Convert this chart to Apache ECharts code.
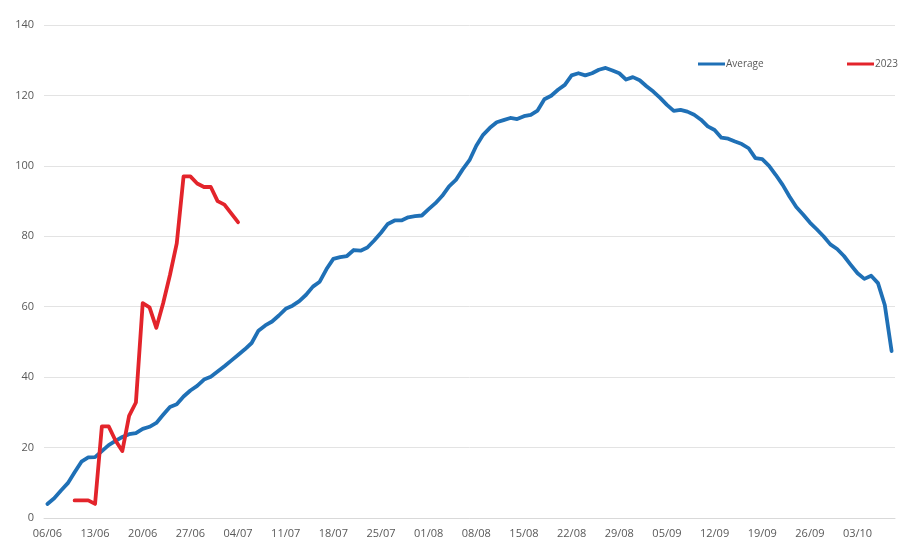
<!DOCTYPE html>
<html>
<head>
<meta charset="utf-8">
<script src="https://cdn.jsdelivr.net/npm/echarts@6/dist/echarts.min.js"></script>
<style>html,body{margin:0;padding:0;background:#fff}#c{width:918px;height:559px}</style>
</head>
<body>
<div id="c"></div>
<script>
// Daily categories from 06/06 to 08/10
const startDay = {d: 6, m: 6};
const monthLengths = {6: 30, 7: 31, 8: 31, 9: 30, 10: 31};
const dayCount = 125;
const categories = [];
(function(){ let d = startDay.d, m = startDay.m;
  for (let i = 0; i < dayCount; i++) {
    categories.push(String(d).padStart(2,'0') + '/' + String(m).padStart(2,'0'));
    d++; if (d > monthLengths[m]) { d = 1; m++; }
  }
})();

const averageValues = [
  4, 5.6, 7.8, 9.9, 13, 16, 17.2, 17.3, 19, 20.7,
  21.9, 23, 23.8, 24.1, 25.3, 25.9, 27, 29.3, 31.5, 32.3,
  34.5, 36.2, 37.5, 39.3, 40.1, 41.6, 43.1, 44.7, 46.3, 47.9,
  49.7, 53.2, 54.7, 55.8, 57.5, 59.4, 60.3, 61.6, 63.4, 65.7,
  67.1, 70.7, 73.6, 74.1, 74.4, 76.1, 75.9, 76.8, 78.8, 81,
  83.5, 84.5, 84.5, 85.4, 85.7, 85.9, 87.7, 89.4, 91.5, 94.2,
  96, 99, 101.6, 105.7, 108.8, 110.8, 112.4, 113, 113.6, 113.3,
  114.1, 114.5, 115.7, 118.9, 119.9, 121.6, 123, 125.7, 126.3, 125.7,
  126.3, 127.3, 127.8, 127.1, 126.3, 124.5, 125.2, 124.3, 122.6, 121.1,
  119.3, 117.3, 115.6, 115.9, 115.4, 114.5, 113.1, 111.2, 110.2, 108,
  107.7, 106.9, 106.2, 105, 102.2, 101.9, 100, 97.4, 94.6, 91.3,
  88.3, 86.2, 83.9, 82, 80, 77.7, 76.4, 74.4, 71.9, 69.5,
  67.9, 68.8, 66.7, 60.5, 47.4
];

const values2023 = [
  null, null, null, null, 5, 5, 5, 4, 26, 26,
  22, 19, 29, 32.8, 61, 59.8, 54, 61, 69, 78,
  97, 97, 95, 94, 94, 90, 89, 86.5, 84
];

const yTicks = [0, 20, 40, 60, 80, 100, 120, 140];

const chart = echarts.init(document.getElementById('c'), null, {renderer: 'canvas'});
const font = 'Open Sans';
chart.setOption({
  animation: false,
  backgroundColor: '#ffffff',
  grid: {left: 44, right: 23, top: 25, bottom: 41, containLabel: false},
  legend: [
    {data: ['Average'], left: 693, top: 54, icon: 'rect', itemWidth: 27, itemHeight: 3,
     textStyle: {color: '#595959', fontSize: 10, fontFamily: font, padding: [0,0,0,-4]}},
    {data: ['2023'], left: 842, top: 54, icon: 'rect', itemWidth: 27, itemHeight: 3,
     textStyle: {color: '#595959', fontSize: 10, fontFamily: font, padding: [0,0,0,-4]}}
  ],
  xAxis: {
    type: 'category',
    data: categories,
    boundaryGap: true,
    axisLine: {show: true, lineStyle: {color: '#d9d9d9', width: 1}},
    axisTick: {show: false},
    axisLabel: {interval: 6, color: '#595959', fontSize: 11, fontFamily: font, margin: 10},
    splitLine: {show: false}
  },
  yAxis: {
    type: 'value',
    min: yTicks[0],
    max: yTicks[yTicks.length - 1],
    interval: 20,
    axisLine: {show: false},
    axisTick: {show: false},
    axisLabel: {color: '#595959', fontSize: 11, fontFamily: font, margin: 10},
    splitLine: {show: true, lineStyle: {color: '#e3e3e3', width: 1}}
  },
  series: [
    {name: 'Average', type: 'line', data: averageValues, showSymbol: false, symbol: 'none',
     lineStyle: {color: '#1F70B6', width: 3.8, cap: 'round', join: 'round'}, itemStyle: {color: '#1F70B6'}, z: 2},
    {name: '2023', type: 'line', data: values2023, showSymbol: false, symbol: 'none',
     lineStyle: {color: '#E3242B', width: 3.8, cap: 'round', join: 'round'}, itemStyle: {color: '#E3242B'}, z: 3}
  ]
});
</script>
</body>
</html>
